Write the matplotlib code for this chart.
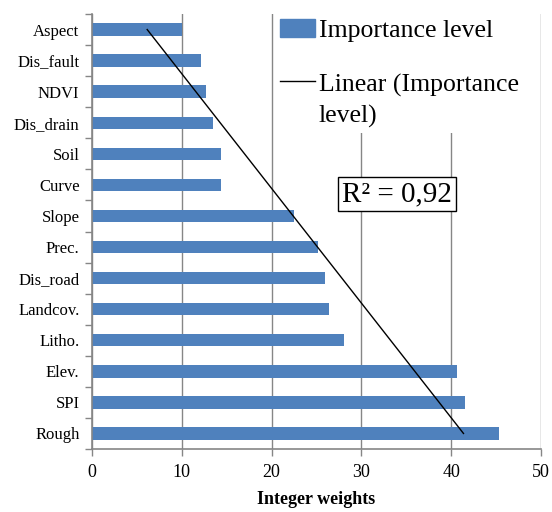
import numpy as np
import matplotlib.pyplot as plt
from matplotlib.patches import Patch
from matplotlib.lines import Line2D
from matplotlib.legend_handler import HandlerLine2D

plt.rcParams['font.family'] = ['Liberation Serif', 'DejaVu Serif']

# Factors listed bottom to top (Excel category order)
factors = ['Rough', 'SPI', 'Elev.', 'Litho.', 'Landcov.', 'Dis_road', 'Prec.',
           'Slope', 'Curve', 'Soil', 'Dis_drain', 'NDVI', 'Dis_fault', 'Aspect']
weights = [45.3, 41.5, 40.6, 28.1, 26.4, 25.9, 25.2,
           22.5, 14.4, 14.4, 13.5, 12.7, 12.1, 10.0]

bar_color = '#4F81BD'
axis_gray = '#868686'


class FirstLineHandler(HandlerLine2D):
    # put the line sample next to the first line of a two-line label
    def create_artists(self, legend, orig_handle, xdescent, ydescent,
                       width, height, fontsize, trans):
        artists = super().create_artists(legend, orig_handle, xdescent, ydescent,
                                         width, height, fontsize, trans)
        for a in artists:
            a.set_ydata(np.asarray(a.get_ydata()) + 0.74 * fontsize)
        return artists


fig = plt.figure(figsize=(5.52, 5.12), dpi=100)
ax = fig.add_axes([92 / 552, 63 / 512, 449 / 552, 435 / 512])

pos = np.arange(len(factors))
ax.barh(pos, weights, height=0.4, color=bar_color, zorder=2)

# linear trendline over category index 1..n, as Excel does it
idx = pos + 1
slope, intercept = np.polyfit(idx, weights, 1)
fit = slope * idx + intercept
ss_res = np.sum((np.array(weights) - fit) ** 2)
ss_tot = np.sum((np.array(weights) - np.mean(weights)) ** 2)
r2 = 1 - ss_res / ss_tot
ax.plot(fit, pos, color='black', lw=1, zorder=3)

ax.set_xlim(0, 50)
ax.set_ylim(-0.5, len(factors) - 0.5)
ax.set_xticks(np.arange(0, 51, 10))
ax.set_yticks(pos)
ax.set_yticklabels(factors)
ax.set_yticks(np.arange(-0.5, len(factors), 1), minor=True)
ax.tick_params(axis='y', which='major', length=0, pad=9, labelsize=12)
ax.tick_params(axis='y', which='minor', length=5, color=axis_gray, width=1)
ax.tick_params(axis='x', length=5, color=axis_gray, width=1, pad=6, labelsize=13)

ax.grid(axis='x', color=axis_gray, lw=1, zorder=0)
ax.set_axisbelow(True)
for side in ['top', 'right']:
    ax.spines[side].set_visible(False)
for side in ['left', 'bottom']:
    ax.spines[side].set_color(axis_gray)
    ax.spines[side].set_linewidth(1.2)

ax.set_xlabel('Integer weights', fontsize=13, fontweight='bold', labelpad=7)

trend_handle = Line2D([], [], color='black', lw=1)
handles = [Patch(color=bar_color), trend_handle]
labels = ['Importance level', 'Linear (Importance\nlevel)']
leg = ax.legend(handles, labels, loc='upper left', bbox_to_anchor=(0.408, 1.0),
                frameon=True, fontsize=18.5, handlelength=1.35, handletextpad=0.15,
                labelspacing=1.23, borderpad=0.2, borderaxespad=0, fancybox=False,
                handler_map={trend_handle: FirstLineHandler()})
leg.get_texts()[1].set_linespacing(1.45)
leg.get_frame().set_edgecolor('none')
leg.get_frame().set_facecolor('white')
leg.get_frame().set_alpha(1)
leg.set_zorder(5)

ax.text(0.679, 0.586, 'R² = ' + f'{r2:.2f}'.replace('.', ','), transform=ax.transAxes,
        fontsize=21, ha='center', va='center', zorder=6,
        bbox=dict(boxstyle='square,pad=0.15', facecolor='white', edgecolor='black', lw=1))

fig.savefig('out.png', dpi=100)
